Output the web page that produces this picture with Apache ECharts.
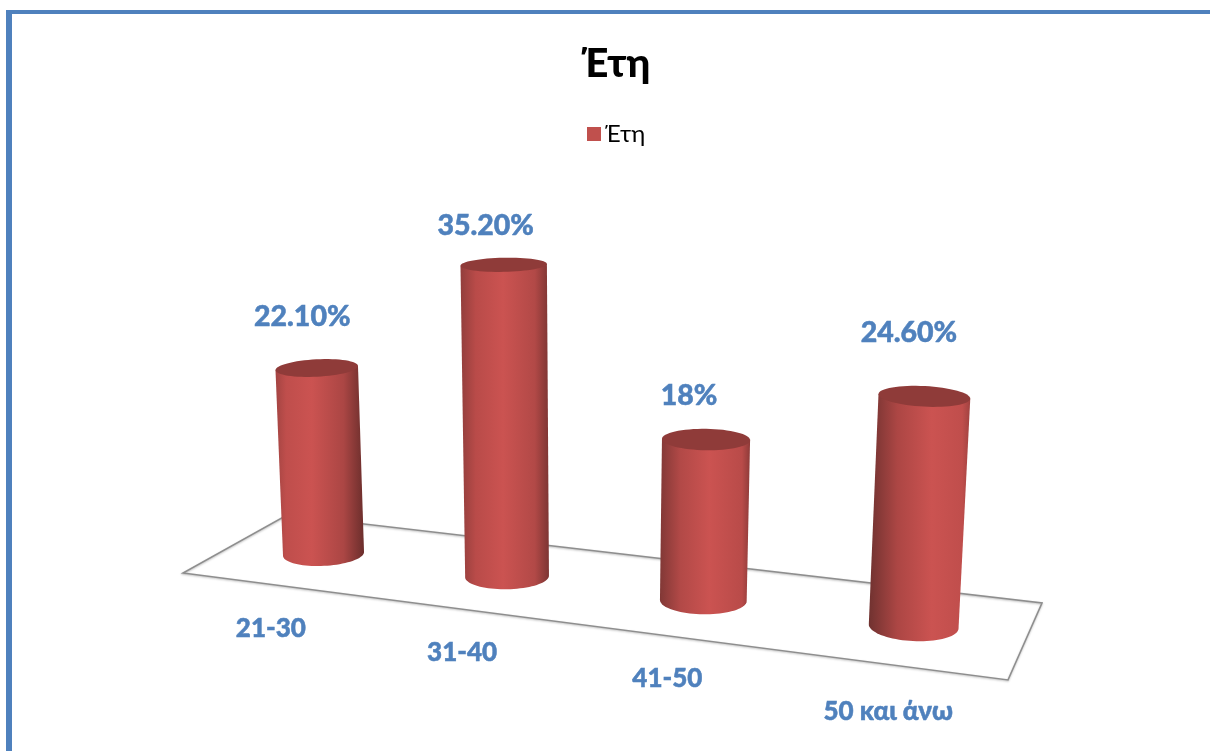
<!DOCTYPE html>
<html>
<head>
<meta charset="utf-8">
<style>html,body{margin:0;padding:0;background:#fff}#chart{width:1210px;height:751px}</style>
<script src="https://cdn.jsdelivr.net/npm/echarts@6/dist/echarts.min.js"></script>
</head>
<body>
<div id="chart"></div>
<script>
// Chart content
const chartTitle = 'Έτη';
const seriesName = 'Έτη';
const categories = ['21-30', '31-40', '41-50', '50 και άνω'];
const shares = [22.1, 35.2, 18, 24.6];
const shareLabels = ['22.10%', '35.20%', '18%', '24.60%'];

// Hand placement of the labels around each cylinder, in pixels
const shareLabelShift = [[-14.5, -51], [-18, -39], [-17, -44], [-15.5, -64]];
const categoryLabelDrop = [44, 43, 42, 47];

// Floor quad corners: front-left, front-right, back-right, back-left
const floorQuad = [[183, 573], [1008, 680], [1042, 603], [287, 515]];
const verticalVanish = [584, 7700];
const BLUE = '#4f81bd';
const FONT = 'Lato, "Open Sans", "Noto Sans", sans-serif';

// Perspective mapping of the unit square on to the floor quad
const [p0, p1, p2, p3] = floorQuad;
const dx1 = p1[0] - p2[0], dx2 = p3[0] - p2[0], sx = p0[0] - p1[0] + p2[0] - p3[0];
const dy1 = p1[1] - p2[1], dy2 = p3[1] - p2[1], sy = p0[1] - p1[1] + p2[1] - p3[1];
const det = dx1 * dy2 - dx2 * dy1;
const g = (sx * dy2 - dx2 * sy) / det;
const h = (dx1 * sy - sx * dy1) / det;
function project(u, v) {
  const w = g * u + h * v + 1;
  return {
    x: ((p1[0] - p0[0] + g * p1[0]) * u + (p3[0] - p0[0] + h * p3[0]) * v + p0[0]) / w,
    y: ((p1[1] - p0[1] + g * p1[1]) * u + (p3[1] - p0[1] + h * p3[1]) * v + p0[1]) / w,
    w
  };
}

function ellipsePoint(c, rx, ry, tilt, t) {
  const ca = Math.cos(tilt), sa = Math.sin(tilt);
  const a = rx * Math.cos(t), b = ry * Math.sin(t);
  return [c.x + a * ca - b * sa, c.y + a * sa + b * ca];
}
const flatness = y => (y + 90) * 0.00046;
const tiltAt = x => Math.atan((x - 620) * 0.00017);

function lerpHex(a, b, t) {
  const pa = [1, 3, 5].map(i => parseInt(a.substr(i, 2), 16));
  const pb = [1, 3, 5].map(i => parseInt(b.substr(i, 2), 16));
  return 'rgb(' + pa.map((c, i) => Math.round(c + (pb[i] - c) * t)).join(',') + ')';
}

function renderFloor(params, api) {
  return {
    type: 'polygon',
    shape: { points: floorQuad },
    style: { fill: 'none', stroke: '#8e8e8e', lineWidth: 1.6,
      shadowColor: 'rgba(0,0,0,0.25)', shadowBlur: 2, shadowOffsetY: 1 },
    silent: true
  };
}

function renderCylinder(params, api) {
  const i = api.value(0), value = api.value(1);
  const sys = params.coordSys;
  const band = sys.width / categories.length;
  const u = (api.coord([i, 0])[0] - sys.x) / sys.width;
  const foot = project(u, 0.5);
  const base = { x: foot.x - 1.3, y: foot.y + 0.5 };
  const depth = 1 / foot.w;

  // Column height comes from the value axis, scaled for depth; the top sits nearer the eye
  const flatHeight = api.size([0, value])[1];
  const heightPx = flatHeight * depth / (1 - flatHeight * 0.00016);
  const lean = (base.x - verticalVanish[0]) / (base.y - verticalVanish[1]);
  const top = { x: base.x - lean * heightPx, y: base.y - heightPx };

  const rBase = band * 0.203 * depth;
  const rTop = rBase * (1 + heightPx * 0.0001);
  const tiltB = tiltAt(base.x), tiltT = tiltAt(top.x);
  const ryB = rBase * flatness(base.y), ryT = rTop * flatness(top.y);

  const body = [];
  for (let k = 0; k <= 40; k++) {
    body.push(ellipsePoint(base, rBase, ryB, tiltB, Math.PI * k / 40));
  }
  body.push(ellipsePoint(top, rTop, ryT, tiltT, Math.PI));
  body.push(ellipsePoint(top, rTop, ryT, tiltT, 0));
  const cap = [];
  for (let k = 0; k < 64; k++) {
    cap.push(ellipsePoint(top, rTop, ryT, tiltT, 2 * Math.PI * k / 64));
  }

  // The light falls towards the middle of the chart, so the far edge of each column darkens
  const t = i / (categories.length - 1);
  const peak = 0.41 + 0.21 * t;
  const shade = new echarts.graphic.LinearGradient(0, 0, 1, 0, [
    { offset: 0, color: lerpHex('#a34442', '#703230', t) },
    { offset: 0.12 + 0.16 * t, color: lerpHex('#bf4e4c', '#ac4644', t) },
    { offset: peak, color: '#cb5351' },
    { offset: Math.min(peak + 0.36, 0.92), color: lerpHex('#ab4644', '#c04e4c', t) },
    { offset: 1, color: lerpHex('#6b2e2c', '#a04240', t) }
  ]);

  const shift = shareLabelShift[i];
  const front = project(u, 0);
  const text = (str, x, y, size) => ({
    type: 'text',
    style: { text: str, x, y, fill: BLUE, stroke: BLUE, lineWidth: 0.5,
      font: '900 ' + size + 'px ' + FONT, align: 'center', verticalAlign: 'middle' }
  });

  return {
    type: 'group',
    children: [
      { type: 'polygon', shape: { points: body }, style: { fill: shade } },
      { type: 'polygon', shape: { points: cap }, style: { fill: '#8f3b39' } },
      text(shareLabels[i], top.x + shift[0], top.y + shift[1], 28.5),
      text(categories[i], front.x - 3, front.y + categoryLabelDrop[i], 26)
    ]
  };
}

const chart = echarts.init(document.getElementById('chart'), null, { renderer: 'canvas' });
chart.setOption({
  animation: false,
  backgroundColor: '#ffffff',
  title: {
    text: chartTitle, left: 611, top: 39, textAlign: 'center',
    textStyle: { fontFamily: FONT, fontWeight: 900, fontSize: 40, color: '#000' }
  },
  legend: {
    data: [seriesName], left: 582, top: 117, itemWidth: 14, itemHeight: 14, itemGap: 4,
    icon: 'rect', selectedMode: false,
    textStyle: { fontFamily: FONT, fontSize: 24, color: '#000', padding: [0, 0, 0, -1] }
  },
  grid: { left: 183, width: 825, top: 200, height: 337 },
  xAxis: { type: 'category', data: categories, show: false },
  yAxis: { type: 'value', min: 0, max: 40, show: false },
  graphic: [
    { type: 'rect', shape: { x: 6, y: 10, width: 1204, height: 4 }, style: { fill: BLUE }, silent: true },
    { type: 'rect', shape: { x: 6, y: 10, width: 6, height: 741 }, style: { fill: BLUE }, silent: true }
  ],
  series: [
    { type: 'custom', name: 'floor', z: 1, silent: true, clip: false,
      data: [[0, 0]], encode: { x: 0, y: 1 }, renderItem: renderFloor },
    { type: 'custom', name: seriesName, z: 2, clip: false,
      itemStyle: { color: '#c0504d' },
      data: shares.map((v, i) => [i, v]), encode: { x: 0, y: 1 }, renderItem: renderCylinder }
  ]
});
</script>
</body>
</html>
